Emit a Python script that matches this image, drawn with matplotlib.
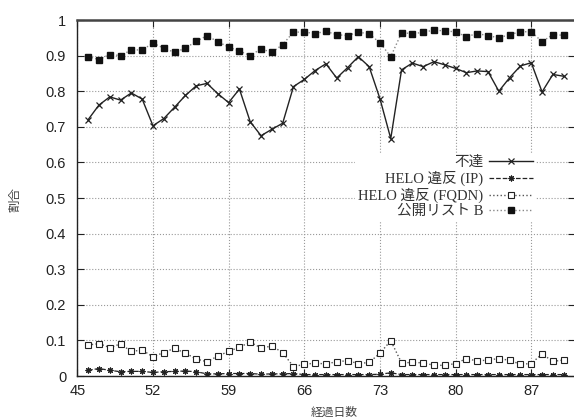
import matplotlib
matplotlib.use("Agg")
import matplotlib.pyplot as plt
from matplotlib import rcParams

# Valores (dias 46 a 90).
dias = [46, 47, 48, 49, 50, 51, 52, 53, 54, 55, 56, 57, 58, 59, 60,
        61, 62, 63, 64, 65, 66, 67, 68, 69, 70, 71, 72, 73, 74, 75,
        76, 77, 78, 79, 80, 81, 82, 83, 84, 85, 86, 87, 88, 89, 90]

futatsu = [0.720, 0.761, 0.784, 0.775, 0.795, 0.778, 0.703, 0.723, 0.755,
           0.788, 0.815, 0.822, 0.793, 0.768, 0.806, 0.714, 0.675, 0.693,
           0.710, 0.813, 0.833, 0.858, 0.877, 0.837, 0.866, 0.897, 0.869,
           0.779, 0.667, 0.860, 0.879, 0.869, 0.883, 0.874, 0.864, 0.852,
           0.857, 0.855, 0.800, 0.838, 0.871, 0.880, 0.798, 0.847, 0.842]

helo_ip = [0.016, 0.021, 0.016, 0.012, 0.013, 0.013, 0.010, 0.012, 0.013,
           0.014, 0.012, 0.006, 0.006, 0.007, 0.007, 0.007, 0.005, 0.006,
           0.006, 0.007, 0.004, 0.004, 0.004, 0.004, 0.004, 0.004, 0.004,
           0.005, 0.009, 0.004, 0.004, 0.004, 0.004, 0.004, 0.004, 0.004,
           0.004, 0.004, 0.004, 0.004, 0.004, 0.004, 0.004, 0.004, 0.004]

helo_fqdn = [0.087, 0.091, 0.080, 0.090, 0.069, 0.073, 0.054, 0.066, 0.078,
             0.064, 0.048, 0.040, 0.056, 0.069, 0.081, 0.095, 0.079, 0.084,
             0.066, 0.026, 0.033, 0.036, 0.034, 0.040, 0.043, 0.035, 0.038,
             0.064, 0.099, 0.037, 0.038, 0.037, 0.030, 0.030, 0.035, 0.049,
             0.042, 0.045, 0.049, 0.044, 0.033, 0.035, 0.062, 0.041, 0.045]

kokai_b = [0.897, 0.889, 0.903, 0.900, 0.916, 0.916, 0.935, 0.921, 0.909,
           0.921, 0.940, 0.956, 0.939, 0.924, 0.913, 0.900, 0.919, 0.909,
           0.931, 0.966, 0.966, 0.962, 0.968, 0.959, 0.956, 0.966, 0.961,
           0.936, 0.897, 0.964, 0.962, 0.965, 0.972, 0.969, 0.967, 0.953,
           0.962, 0.956, 0.950, 0.959, 0.967, 0.967, 0.939, 0.959, 0.957]

xticks = [45, 52, 59, 66, 73, 80, 87]
yticks = [0, 0.1, 0.2, 0.3, 0.4, 0.5, 0.6, 0.7, 0.8, 0.9, 1]
ytick_labels = ["0", "0.1", "0.2", "0.3", "0.4", "0.5", "0.6", "0.7",
                "0.8", "0.9", "1"]

rcParams["font.family"] = ["Liberation Sans", "Noto Sans CJK JP"]
rcParams["font.size"] = 10

fig = plt.figure(figsize=(5.74, 4.19), dpi=100)
ax = fig.add_axes([77.3 / 574, 1 - 376 / 419, (574.5 - 77.3) / 574,
                   (376 - 20) / 419])

# Series (estilo gnuplot).
ax.plot(dias, futatsu, "-", color="#222222", lw=1.0, marker="x",
        ms=4.2, mew=0.9, label="不達", zorder=4)
ax.plot(dias, helo_ip, "--", color="#222222", lw=0.9, marker=(8, 2, 0),
        ms=4.2, mew=0.8, label="HELO 違反 (IP)", zorder=4)
ax.plot(dias, helo_fqdn, ":", color="#555555", lw=1.0, marker="s",
        ms=3.9, mfc="white", mec="#222222", mew=0.8,
        label="HELO 違反 (FQDN)", zorder=4)
ax.plot(dias, kokai_b, ":", color="#888888", lw=1.0, marker="s",
        ms=5.0, mfc="#111111", mec="#111111", label="公開リスト B", zorder=4)

ax.set_xlim(45, 91)
ax.set_ylim(0, 1)
ax.set_xticks(xticks)
ax.set_yticks(yticks)
ax.set_yticklabels(ytick_labels)
ax.tick_params(direction="in", length=5, width=0.8, top=True, right=True,
               colors="#222222", labelsize=10.5)
ax.tick_params(axis="y", pad=8)
ax.tick_params(axis="x", pad=6)
ax.grid(True, linestyle=":", color="#999999", linewidth=0.8)
ax.set_axisbelow(True)

for s in ["left", "bottom", "right"]:
    ax.spines[s].set_linewidth(1.0)
    ax.spines[s].set_color("#222222")
ax.spines["top"].set_linewidth(1.8)
ax.spines["top"].set_color("#444444")

# Rótulos dos eixos.
fig.text(15 / 574, 1 - 200 / 419, "割合", rotation=90, ha="center",
         va="center", fontsize=9, color="#444444",
         family=["Noto Sans CJK JP"])
fig.text(334 / 574, 1 - 412 / 419, "経過日数", ha="center", va="center",
         fontsize=8.5, color="#444444", family=["Noto Sans CJK JP"])

# Legenda com o texto à esquerda da amostra.
leg = ax.legend(loc="upper right", bbox_to_anchor=(536 / 574, 1 - 153 / 419),
                bbox_transform=fig.transFigure, markerfirst=False,
                numpoints=1, handlelength=3.0, handletextpad=0.4,
                labelspacing=0.12, borderpad=0.2, borderaxespad=0,
                frameon=True, fancybox=False, framealpha=1,
                prop={"family": ["Liberation Serif", "Noto Sans CJK JP"],
                      "size": 10.5})
leg.get_frame().set_edgecolor("none")
for t in leg.get_texts():
    t.set_color("#333333")
leg.set_zorder(5)

fig.savefig("out.png", dpi=100)
